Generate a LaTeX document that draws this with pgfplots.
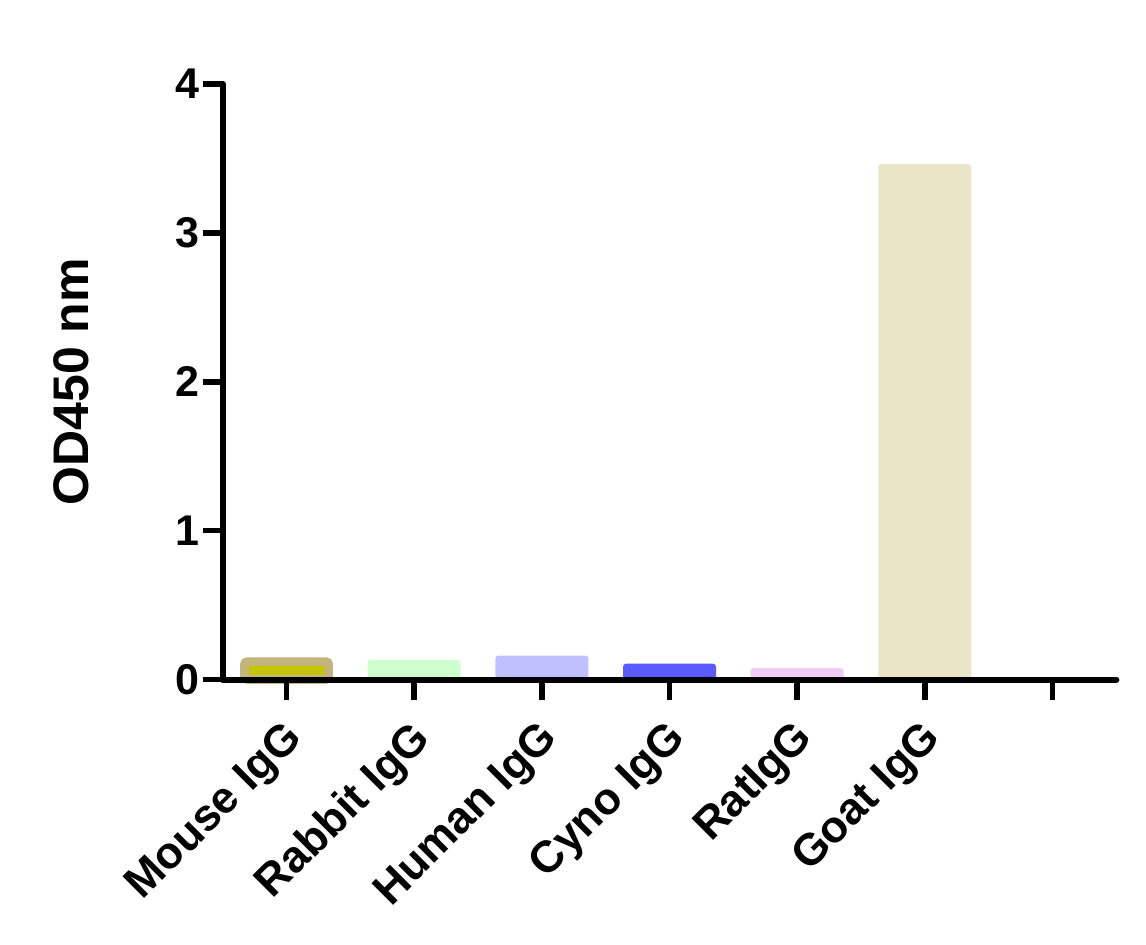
\documentclass[border=0pt]{standalone}
\usepackage{fontspec}
\setmainfont{Liberation Sans}
\usepackage{pgfplots}
\pgfplotsset{compat=1.18}

\definecolor{mousefill}{HTML}{C4C400}
\definecolor{mouseedge}{HTML}{C2B47B}
\definecolor{rabbit}{HTML}{CCFFCC}
\definecolor{human}{HTML}{C0C0FF}
\definecolor{cyno}{HTML}{5A5AFF}
\definecolor{rat}{HTML}{EFCBF6}
\definecolor{goat}{HTML}{EBE5C8}

\begin{document}
\begin{tikzpicture}
% page frame, 1pt = 1px of the reference
\useasboundingbox (-222.7pt,-265.5pt) rectangle (923.3pt,679.5pt);
\begin{axis}[
    scale only axis,
    width=893.7pt, height=595.5pt,
    xmin=-0.5, xmax=6.5,
    ymin=0, ymax=4,
    axis x line=bottom, axis y line=left,
    axis line style={-, line width=6pt, line cap=round},
    axis on top,
    clip=false,
    tick align=outside,
    major tick length=20pt,
    every tick/.style={black, line width=5.5pt},
    xtick={0,...,6},
    xticklabels={Mouse IgG,Rabbit IgG,Human IgG,Cyno IgG,RatIgG,Goat IgG,{}},
    ytick={0,1,2,3,4},
    /pgf/number format/assume math mode=true,
    xticklabel style={xshift=-5pt, yshift=-18pt, rotate=45, anchor=north east, inner sep=0pt,
        font=\bfseries\fontsize{44.5}{44.5}\selectfont},
    yticklabel style={xshift=-3pt, anchor=east, inner sep=0pt,
        font=\bfseries\fontsize{43}{43}\selectfont},
    ylabel={OD450 nm},
    every axis y label/.style={at={(axis description cs:-0.1697,0.5)}, rotate=90,
        anchor=center, inner sep=0pt,
        font=\bfseries\fontsize{50}{50}\selectfont},
    bar shift=0pt,
]
\addplot[ybar, bar width=84.2pt, fill=mousefill, draw=mouseedge, line width=8.7pt,
    rounded corners=3pt] coordinates {(0,0.120)};
\addplot[ybar, bar width=93pt, fill=rabbit, draw=none, rounded corners=3pt]
    coordinates {(1,0.131)};
\addplot[ybar, bar width=93pt, fill=human, draw=none, rounded corners=3pt]
    coordinates {(2,0.160)};
\addplot[ybar, bar width=93pt, fill=cyno, draw=none, rounded corners=3pt]
    coordinates {(3,0.106)};
\addplot[ybar, bar width=93pt, fill=rat, draw=none, rounded corners=3pt]
    coordinates {(4,0.077)};
\addplot[ybar, bar width=93pt, fill=goat, draw=none, rounded corners=3pt]
    coordinates {(5,3.462)};
\end{axis}
\end{tikzpicture}
\end{document}
